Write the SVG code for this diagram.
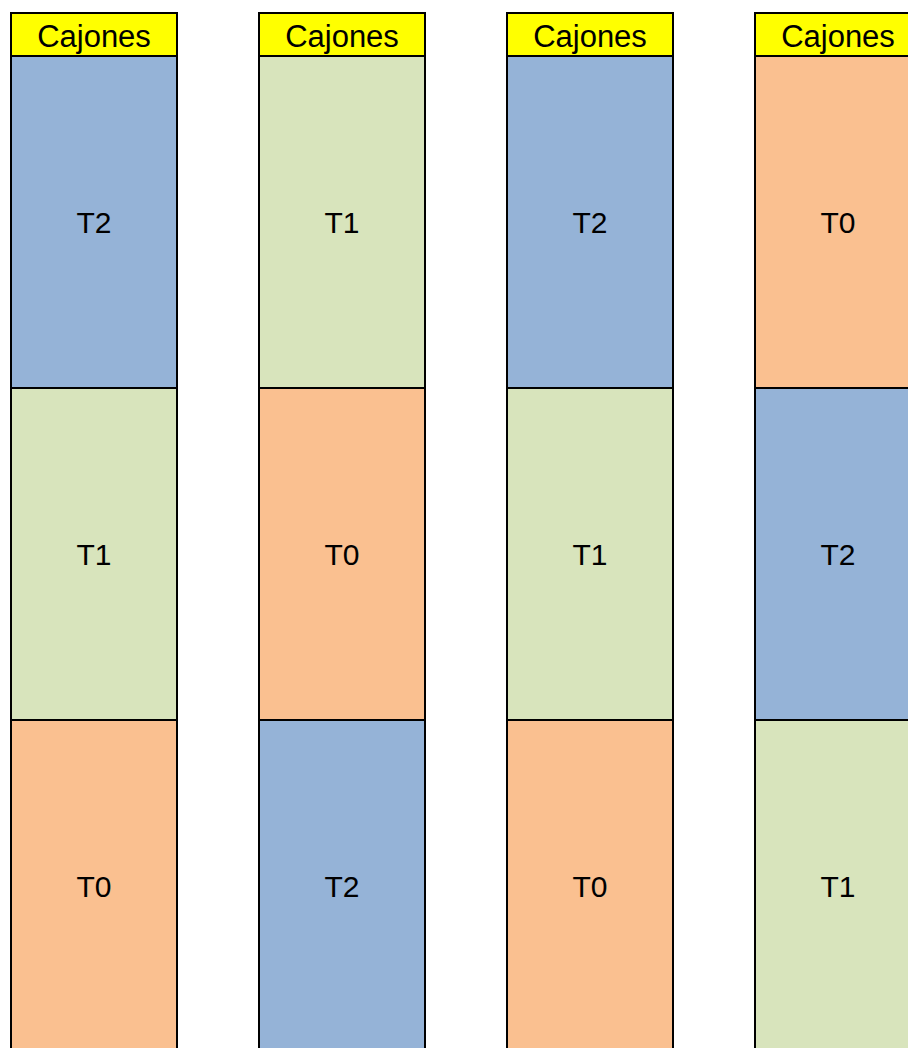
<svg xmlns="http://www.w3.org/2000/svg" width="908" height="1048" viewBox="0 0 908 1048">
<style>
.b{stroke:#000;stroke-width:2}
.h{fill:#FFFF00}
.c2{fill:#95B3D7}
.c1{fill:#D8E4BC}
.c0{fill:#FAC090}
text{font-family:"Liberation Sans",Arial,sans-serif;font-size:30px;fill:#000;text-anchor:middle;dominant-baseline:central}
text.t{font-size:31px}
</style>
<rect width="908" height="1048" fill="#fff"/>
<g id="col1">
<rect class="b h" x="11" y="13" width="166" height="43"/>
<text class="t" x="94" y="36">Cajones</text>
<rect class="b c2" x="11" y="56" width="166" height="332"/>
<text x="94" y="222">T2</text>
<rect class="b c1" x="11" y="388" width="166" height="332"/>
<text x="94" y="554">T1</text>
<rect class="b c0" x="11" y="720" width="166" height="340"/>
<text x="94" y="886">T0</text>
</g>
<g id="col2">
<rect class="b h" x="259" y="13" width="166" height="43"/>
<text class="t" x="342" y="36">Cajones</text>
<rect class="b c1" x="259" y="56" width="166" height="332"/>
<text x="342" y="222">T1</text>
<rect class="b c0" x="259" y="388" width="166" height="332"/>
<text x="342" y="554">T0</text>
<rect class="b c2" x="259" y="720" width="166" height="340"/>
<text x="342" y="886">T2</text>
</g>
<g id="col3">
<rect class="b h" x="507" y="13" width="166" height="43"/>
<text class="t" x="590" y="36">Cajones</text>
<rect class="b c2" x="507" y="56" width="166" height="332"/>
<text x="590" y="222">T2</text>
<rect class="b c1" x="507" y="388" width="166" height="332"/>
<text x="590" y="554">T1</text>
<rect class="b c0" x="507" y="720" width="166" height="340"/>
<text x="590" y="886">T0</text>
</g>
<g id="col4">
<rect class="b h" x="755" y="13" width="166" height="43"/>
<text class="t" x="838" y="36">Cajones</text>
<rect class="b c0" x="755" y="56" width="166" height="332"/>
<text x="838" y="222">T0</text>
<rect class="b c2" x="755" y="388" width="166" height="332"/>
<text x="838" y="554">T2</text>
<rect class="b c1" x="755" y="720" width="166" height="340"/>
<text x="838" y="886">T1</text>
</g>
<g id="connectors"></g>
</svg>
